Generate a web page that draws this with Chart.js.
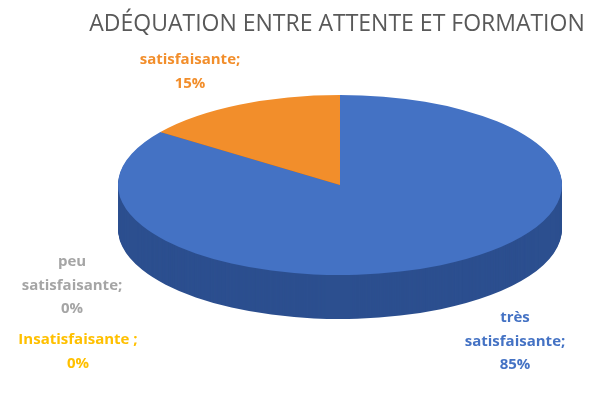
<!DOCTYPE html>
<html><head><meta charset="utf-8">
<script src="https://cdn.jsdelivr.net/npm/chart.js@4"></script>
<style>html,body{margin:0;padding:0;background:#fff}#w{width:600px;height:407px}</style>
</head><body><div id="w"><canvas id="c"></canvas></div>
<script>
const titleText = "ADÉQUATION ENTRE ATTENTE ET FORMATION";
const categories = ["très satisfaisante", "peu satisfaisante", "Insatisfaisante", "satisfaisante"];
const values = [85, 0, 0, 15];
const labelLines = [["très","satisfaisante;","85%"],["peu","satisfaisante;","0%"],["Insatisfaisante ;","0%"],["satisfaisante;","15%"]];
const colors = ["#4472c4", "#a5a5a5", "#ffc000", "#f28e2b"];
const sideColors = ["#2c4f8f", "#777", "#b08600", "#b0611a"];
const labelPos = [[515,318],[72,262],[78,340],[190,60]];

const CX=340, CY=185, RX=222, RY=90, DEPTH=44;
const pie3d = {
  id:'pie3d',
  beforeDatasetsDraw(chart){
    const ctx=chart.ctx, meta=chart.getDatasetMeta(0);
    const a=chart.chartArea, cx=(a.left+a.right)/2, cy=(a.top+a.bottom)/2;
    const r=meta.data[0].outerRadius;
    const drawAll=(dy,side)=>{
      ctx.save();
      ctx.translate(CX,CY+dy); ctx.scale(RX/r,RY/r); ctx.translate(-cx,-cy);
      meta.data.forEach((arc,i)=>{
        if(!values[i]) return;
        const o=arc.options.backgroundColor;
        arc.options.backgroundColor = side? sideColors[i] : colors[i];
        arc.options.borderColor = arc.options.backgroundColor;
        arc.draw(ctx);
        arc.options.backgroundColor=o;
      });
      ctx.restore();
    };
    for(let d=DEPTH; d>0; d--) drawAll(d,true);
    drawAll(0,false);
    return false;
  },
  afterDraw(chart){
    const ctx=chart.ctx;
    ctx.save();
    ctx.textAlign="center"; ctx.textBaseline="middle";
    ctx.fillStyle="#595959";
    ctx.font="23px 'Open Sans', sans-serif";
    ctx.fillText(titleText,337,24);
    ctx.font="bold 15px 'Open Sans', sans-serif";
    labelLines.forEach((lines,i)=>{
      ctx.fillStyle=colors[i];
      lines.forEach((t,j)=>ctx.fillText(t,labelPos[i][0],labelPos[i][1]+j*23.5));
    });
    ctx.restore();
  }
};

new Chart(document.getElementById('c'),{
  type:'pie',
  data:{labels:categories,datasets:[{data:values,backgroundColor:colors,borderWidth:0}]},
  options:{
    responsive:true,maintainAspectRatio:false,animation:false,
    layout:{padding:{top:40}},
    plugins:{legend:{display:false},tooltip:{enabled:false},title:{display:false}}
  },
  plugins:[pie3d]
});
</script></body></html>
